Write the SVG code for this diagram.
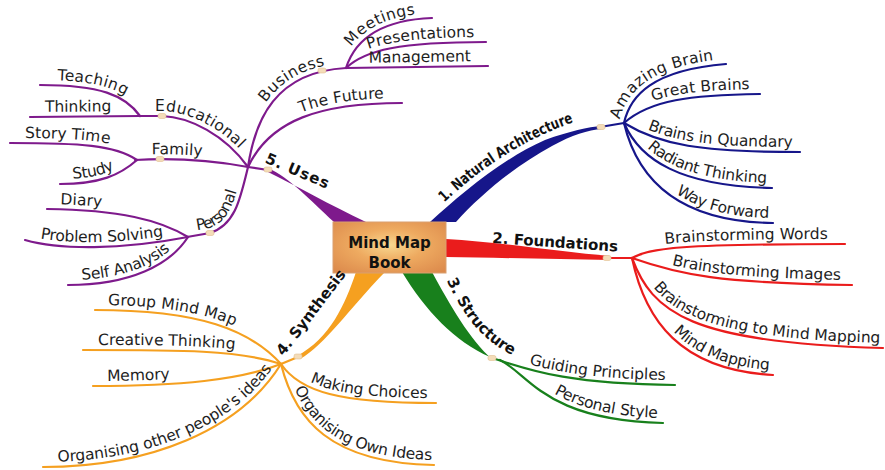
<svg xmlns="http://www.w3.org/2000/svg" xmlns:xlink="http://www.w3.org/1999/xlink" width="885" height="470" viewBox="0 0 885 470">
<style>
.t{font-family:"DejaVu Sans","Liberation Sans",sans-serif;font-size:15.5px;fill:#1e1e1e}
.m{font-family:"DejaVu Sans","Liberation Sans",sans-serif;font-size:15px;font-weight:bold;fill:#111}
.l{fill:none;stroke-width:2.2;stroke-linecap:round}
.nv{stroke:#16168a}.rd{stroke:#ea1c1c}.gr{stroke:#18801c}.or{stroke:#f5a020}.pu{stroke:#7e1a8c}
.dot{fill:#f4dcb8;stroke:#e0c090;stroke-width:0.6}
</style>
<defs>
<radialGradient id="bg" cx="0.5" cy="0.45" r="0.7">
<stop offset="0" stop-color="#f8d890"/>
<stop offset="0.45" stop-color="#eeaa60"/>
<stop offset="1" stop-color="#dc8a4c"/>
</radialGradient>
<!-- navy -->
<path id="nA" d="M624,123 C630,96 652,70 726,64"/>
<path id="nG" d="M624,123 C650,100 690,95 760,94"/>
<path id="nQ" d="M624,123 C660,145 700,152 800,152"/>
<path id="nR" d="M624,123 C640,160 680,186 772,188"/>
<path id="nW" d="M624,123 C640,190 690,222 773,223"/>
<path id="nL" d="M445,206 C477,175 525,140 584,122"/>
<!-- red -->
<path id="rW" d="M632,258 C650,248 680,244 845,244"/>
<path id="rI" d="M632,258 C680,275 720,283 852,285"/>
<path id="rM" d="M632,258 C652,312 690,343 883,348"/>
<path id="rMM" d="M632,258 C645,320 680,370 773,375"/>
<path id="rL" d="M492,244 L624,253"/>
<!-- green -->
<path id="gG" d="M492,358 C525,368 560,384 675,385"/>
<path id="gP" d="M500,360 C530,375 545,420 663,423"/>
<path id="gL" d="M446,281 C460,312 480,342 516,358"/>
<!-- orange -->
<path id="oG" d="M95,310 C200,310 250,330 281,364"/>
<path id="oC" d="M83,350 C180,350 240,350 281,364"/>
<path id="oM" d="M93,386 C180,386 240,380 281,364"/>
<path id="oO" d="M43,467 C150,467 240,430 281,364"/>
<path id="oMC" d="M281,364 C300,392 340,403 436,403"/>
<path id="oOI" d="M281,364 C295,420 330,463 434,465"/>
<path id="oL" d="M284,357 C306,330 328,300 354,266"/>
<!-- purple -->
<path id="pB" d="M248,167 C255,120 275,72 346,68"/>
<path id="pMg" d="M346,68 L488,66"/>
<path id="pMt" d="M346,68 C355,40 380,20 432,18"/>
<path id="pPr" d="M346,68 C365,50 400,42 486,42"/>
<path id="pF" d="M248,167 C270,120 320,103 402,103"/>
<path id="pE" d="M138,116 L162,116 C190,117 225,135 248,167"/>
<path id="pT" d="M40,85 C100,85 125,95 140,116"/>
<path id="pTh" d="M30,117 L140,116"/>
<path id="pFa" d="M135,160 C170,158 210,160 248,167"/>
<path id="pS" d="M10,143 C80,143 115,145 137,160"/>
<path id="pSt" d="M60,184 C100,184 120,175 137,160"/>
<path id="pP" d="M187,237 L210,233 C235,225 240,200 248,167"/>
<path id="pD" d="M47,209 C120,210 160,220 188,237"/>
<path id="pPS" d="M25,240 C60,250 120,250 188,237"/>
<path id="pSA" d="M68,285 C130,285 170,265 188,237"/>
<path id="pL" d="M263,165 L336,196"/>
</defs>
<rect width="885" height="470" fill="#fff"/>

<g id="connectors">
<!-- main tapered branches -->
<path fill="#16168a" d="M430,222 C460,195 500,160 545,140 C570,131 588,127 602,126 L602,129 C588,130 572,135 552,146 C515,166 480,195 456,222 Z"/>
<path fill="#ea1c1c" d="M446,239 C500,242 560,252 610,256 L610,260 C560,259 500,258 446,257 Z"/>
<path fill="#18801c" d="M402,272 C425,310 455,342 490,357 L492,359 C470,340 450,305 432,272 Z"/>
<path fill="#f5a020" d="M356,272 C345,305 330,338 297,356 L300,359 C325,345 348,310 385,272 Z"/>
<path fill="#7e1a8c" d="M334,222 C310,200 290,178 268,168 L268,172 C295,185 330,205 366,222 Z"/>
<path class="l nv" stroke-width="3" d="M600,127 L624,123"/>
<path class="l rd" stroke-width="3" d="M606,258 L633,258"/>
<path class="l or" stroke-width="3" d="M298,357 L281,364"/>
<path class="l pu" stroke-width="3" d="M268,170 L248,167"/>
<use href="#nA" class="l nv"/><use href="#nG" class="l nv"/><use href="#nQ" class="l nv"/><use href="#nR" class="l nv"/><use href="#nW" class="l nv"/>
<use href="#rW" class="l rd"/><use href="#rI" class="l rd"/><use href="#rM" class="l rd"/><use href="#rMM" class="l rd"/>
<use href="#gG" class="l gr"/><use href="#gP" class="l gr"/>
<use href="#oG" class="l or"/><use href="#oC" class="l or"/><use href="#oM" class="l or"/><use href="#oO" class="l or"/><use href="#oMC" class="l or"/><use href="#oOI" class="l or"/>
<use href="#pB" class="l pu"/><use href="#pMg" class="l pu"/><use href="#pMt" class="l pu"/><use href="#pPr" class="l pu"/><use href="#pF" class="l pu"/><use href="#pE" class="l pu"/><use href="#pT" class="l pu"/><use href="#pTh" class="l pu"/><use href="#pFa" class="l pu"/><use href="#pS" class="l pu"/><use href="#pSt" class="l pu"/><use href="#pP" class="l pu"/><use href="#pD" class="l pu"/><use href="#pPS" class="l pu"/><use href="#pSA" class="l pu"/>
<!-- junction markers -->
<rect class="dot" x="597" y="124.5" width="8" height="5" rx="2"/>
<rect class="dot" x="603" y="255.5" width="8" height="5" rx="2"/>
<rect class="dot" x="488" y="355.5" width="8" height="5" rx="2"/>
<rect class="dot" x="294" y="354" width="8" height="5" rx="2"/>
<rect class="dot" x="264" y="167" width="8" height="5" rx="2"/>
<rect class="dot" x="318" y="68" width="8" height="5" rx="2"/>
<rect class="dot" x="158" y="113.5" width="8" height="5" rx="2"/>
<rect class="dot" x="156" y="156.5" width="8" height="5" rx="2"/>
<rect class="dot" x="206" y="230.5" width="8" height="5" rx="2"/>
</g>

<g id="center">
<rect x="333" y="222" width="113" height="51" fill="url(#bg)" stroke="#d9a070" stroke-width="1"/>
<text x="389.5" y="248" text-anchor="middle" class="m" font-size="18">Mind Map</text>
<text x="389.5" y="268" text-anchor="middle" class="m" font-size="18">Book</text>
</g>

<g id="natural-architecture"><text class="m" font-size="13" font-weight="normal" dy="-3"><textPath href="#nL" startOffset="2" textLength="152" lengthAdjust="spacingAndGlyphs">1. Natural Architecture</textPath></text></g>
<g id="amazing-brain"><text class="t" dy="-5"><textPath href="#nA" startOffset="2">Amazing Brain</textPath></text></g>
<g id="great-brains"><text class="t" dy="-5" text-anchor="end"><textPath href="#nG" startOffset="93%">Great Brains</textPath></text></g>
<g id="brains-quandary"><text class="t" dy="-5" text-anchor="end"><textPath href="#nQ" startOffset="96%">Brains in Quandary</textPath></text></g>
<g id="radiant-thinking"><text class="t" dy="-5" text-anchor="end"><textPath href="#nR" startOffset="97%">Radiant Thinking</textPath></text></g>
<g id="way-forward"><text class="t" dy="-5" text-anchor="end"><textPath href="#nW" startOffset="98%">Way Forward</textPath></text></g>

<g id="foundations"><text class="m" dy="-1"><textPath href="#rL">2. Foundations</textPath></text></g>
<g id="bs-words"><text class="t" dy="-5" text-anchor="end"><textPath href="#rW" startOffset="92%">Brainstorming Words</textPath></text></g>
<g id="bs-images"><text class="t" dy="-5" text-anchor="end"><textPath href="#rI" startOffset="95%">Brainstorming Images</textPath></text></g>
<g id="bs-mindmap"><text class="t" dy="-5" text-anchor="end"><textPath href="#rM" startOffset="99%">Brainstorming to Mind Mapping</textPath></text></g>
<g id="mind-mapping"><text class="t" dy="-5" text-anchor="end"><textPath href="#rMM" startOffset="98%">Mind Mapping</textPath></text></g>

<g id="structure"><text class="m" dy="-1"><textPath href="#gL">3. Structure</textPath></text></g>
<g id="guiding"><text class="t" dy="-5" text-anchor="end"><textPath href="#gG" startOffset="95%">Guiding Principles</textPath></text></g>
<g id="personal-style"><text class="t" dy="-5" text-anchor="end"><textPath href="#gP" startOffset="97%">Personal Style</textPath></text></g>

<g id="synthesis"><text class="m" font-size="14" dy="-1"><textPath href="#oL">4. Synthesis</textPath></text></g>
<g id="group-mind-map"><text class="t" dy="-5"><textPath href="#oG" startOffset="13">Group Mind Map</textPath></text></g>
<g id="creative-thinking"><text class="t" dy="-5"><textPath href="#oC" startOffset="15">Creative Thinking</textPath></text></g>
<g id="memory"><text class="t" dy="-5"><textPath href="#oM" startOffset="14">Memory</textPath></text></g>
<g id="organising-other"><text class="t" font-size="14" dy="-5"><textPath href="#oO" startOffset="15">Organising other people's ideas</textPath></text></g>
<g id="making-choices"><text class="t" dy="-5" text-anchor="end"><textPath href="#oMC" startOffset="95%">Making Choices</textPath></text></g>
<g id="organising-own"><text class="t" dy="-5" text-anchor="end"><textPath href="#oOI" startOffset="99%">Organising Own Ideas</textPath></text></g>

<g id="uses"><text class="m" dy="-3" letter-spacing="1"><textPath href="#pL">5. Uses</textPath></text></g>
<g id="business"><text class="t" dy="-5" text-anchor="end"><textPath href="#pB" startOffset="87%">Business</textPath></text></g>
<g id="meetings"><text class="t" dy="-5" text-anchor="end"><textPath href="#pMt" startOffset="85%">Meetings</textPath></text></g>
<g id="presentations"><text class="t" dy="-5" text-anchor="end"><textPath href="#pPr" startOffset="92%">Presentations</textPath></text></g>
<g id="management"><text class="t" dy="-5" text-anchor="end"><textPath href="#pMg" startOffset="88%">Management</textPath></text></g>
<g id="the-future"><text class="t" dy="-5" text-anchor="end"><textPath href="#pF" startOffset="90%">The Future</textPath></text></g>
<g id="educational"><text class="t" dy="-5"><textPath href="#pE" startOffset="17">Educational</textPath></text></g>
<g id="teaching"><text class="t" dy="-5"><textPath href="#pT" startOffset="17">Teaching</textPath></text></g>
<g id="thinking"><text class="t" dy="-5"><textPath href="#pTh" startOffset="15">Thinking</textPath></text></g>
<g id="family"><text class="t" dy="-5"><textPath href="#pFa" startOffset="17">Family</textPath></text></g>
<g id="story-time"><text class="t" dy="-5"><textPath href="#pS" startOffset="15">Story Time</textPath></text></g>
<g id="study"><text class="t" dy="-5"><textPath href="#pSt" startOffset="13">Study</textPath></text></g>
<g id="personal"><text class="t" dy="-5"><textPath href="#pP" startOffset="11">Personal</textPath></text></g>
<g id="diary"><text class="t" dy="-5"><textPath href="#pD" startOffset="13">Diary</textPath></text></g>
<g id="problem-solving"><text class="t" dy="-5"><textPath href="#pPS" startOffset="15">Problem Solving</textPath></text></g>
<g id="self-analysis"><text class="t" dy="-5"><textPath href="#pSA" startOffset="14">Self Analysis</textPath></text></g>
</svg>
